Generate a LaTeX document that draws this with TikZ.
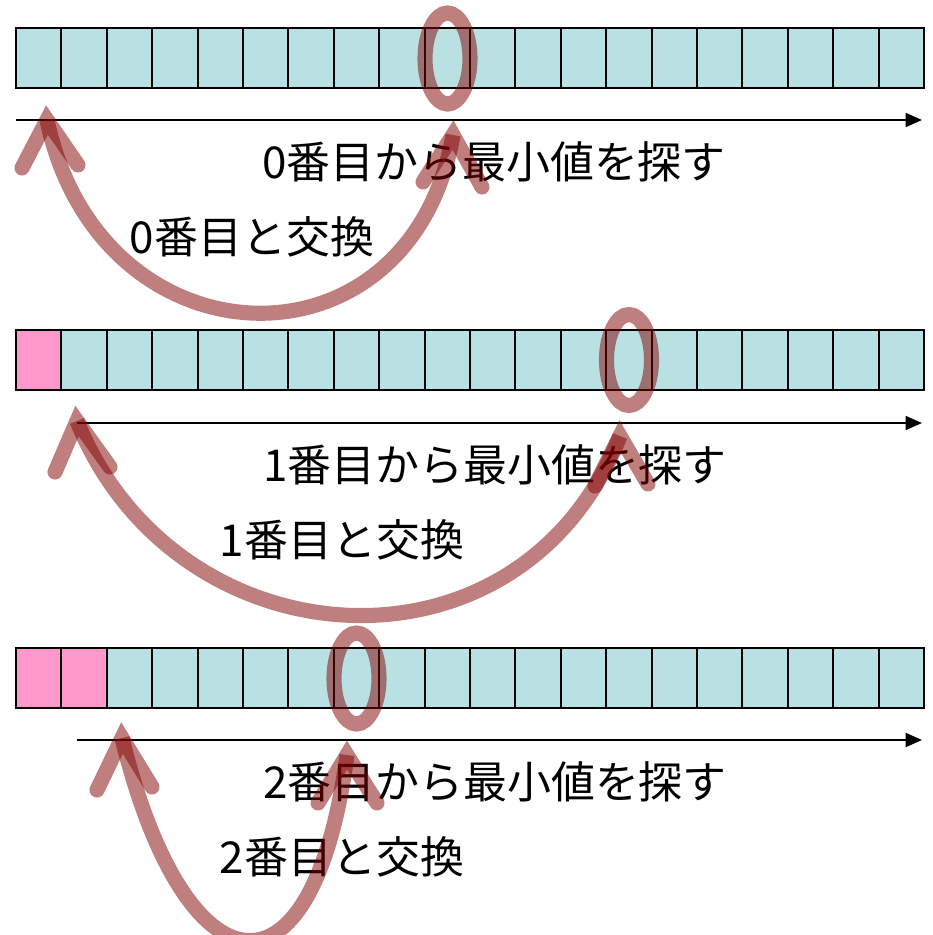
\documentclass[tikz,border=0pt]{standalone}
\usepackage{fontspec}
\setmainfont{Noto Sans CJK JP}
\usepackage{tikz}
\usetikzlibrary{arrows.meta}

\definecolor{cellcyan}{RGB}{185,224,227}
\definecolor{cellpink}{RGB}{255,153,204}
\definecolor{swapred}{RGB}{128,0,0}

\begin{document}
\begin{tikzpicture}[
  cell/.style = {draw = black, line width = 1.1pt},
  scan/.style = {line width = 1.2pt, -{Triangle[length = 0.33cm, width = 0.28cm]}},
  swaparc/.style = {draw = swapred, draw opacity = 0.5, line width = 8.6pt},
  barb/.style = {swaparc, line cap = round, line join = miter},
  jptext/.style = {font = \fontsize{25}{30}\selectfont, inner sep = 0pt}
]
\useasboundingbox (0, 0) rectangle (18.64, -18.70);

% the three arrays
\foreach \ytop/\npink in {-0.56/0, -6.60/1, -12.96/2} {
  \foreach \i in {0,...,19} {
    \ifnum\i<\npink \def\cellcol{cellpink}\else\def\cellcol{cellcyan}\fi
    \draw[cell, fill = \cellcol] ({0.32 + 0.908*\i}, \ytop) rectangle +(0.908, -1.2);
  }
}

% minimum found
\draw[swaparc] (8.95, -1.17) ellipse [x radius = 0.45, y radius = 0.91];
\draw[swaparc] (12.58, -7.20) ellipse [x radius = 0.45, y radius = 0.91];
\draw[swaparc] (7.13, -13.57) ellipse [x radius = 0.45, y radius = 0.91];

% search range
\coordinate (st0) at (0.32, -2.40);
\coordinate (en0) at (18.44, -2.40);
\coordinate (st1) at (1.54, -8.46);
\coordinate (en1) at (18.44, -8.46);
\coordinate (st2) at (1.54, -14.80);
\coordinate (en2) at (18.44, -14.80);
\draw[scan] (st0) -- (en0);
\draw[scan] (st1) -- (en1);
\draw[scan] (st2) -- (en2);

\node[jptext] (find0) at (9.88, -3.24) {0番目から最小値を探す};
\node[jptext] (swap0) at (5.04, -4.74) {0番目と交換};
\node[jptext] (find1) at (9.90, -9.30) {1番目から最小値を探す};
\node[jptext] (swap1) at (6.84, -10.80) {1番目と交換};
\node[jptext] (find2) at (9.90, -15.64) {2番目から最小値を探す};
\node[jptext] (swap2) at (6.84, -17.14) {2番目と交換};

% swaps
\coordinate (lo0) at (0.94, -2.40);
\coordinate (hi0) at (9.06, -2.70);
\coordinate (lo1) at (1.54, -8.42);
\coordinate (hi1) at (12.40, -8.72);
\coordinate (lo2) at (2.44, -14.76);
\coordinate (hi2) at (6.94, -15.10);

\draw[swaparc] (lo0) .. controls (2.0, -7.4) and (8.2, -7.6) .. (hi0);
\draw[barb] (lo0) ++(-0.50, -0.96) -- (lo0) -- ++(0.62, -0.90);
\draw[barb] (hi0) ++(-0.60, -0.94) -- (hi0) -- ++(0.58, -1.04);

\draw[swaparc] (lo1) .. controls (3.5, -13.3) and (10.4, -13.8) .. (hi1);
\draw[barb] (lo1) ++(-0.44, -1.02) -- (lo1) -- ++(0.66, -0.92);
\draw[barb] (hi1) ++(-0.50, -1.00) -- (hi1) -- ++(0.56, -0.96);

\draw[swaparc] (lo2) .. controls (3.7, -19.9) and (6.25, -20.3) .. (hi2);
\draw[barb] (lo2) ++(-0.50, -1.04) -- (lo2) -- ++(0.60, -0.98);
\draw[barb] (hi2) ++(-0.58, -0.96) -- (hi2) -- ++(0.60, -0.96);
\end{tikzpicture}
\end{document}
